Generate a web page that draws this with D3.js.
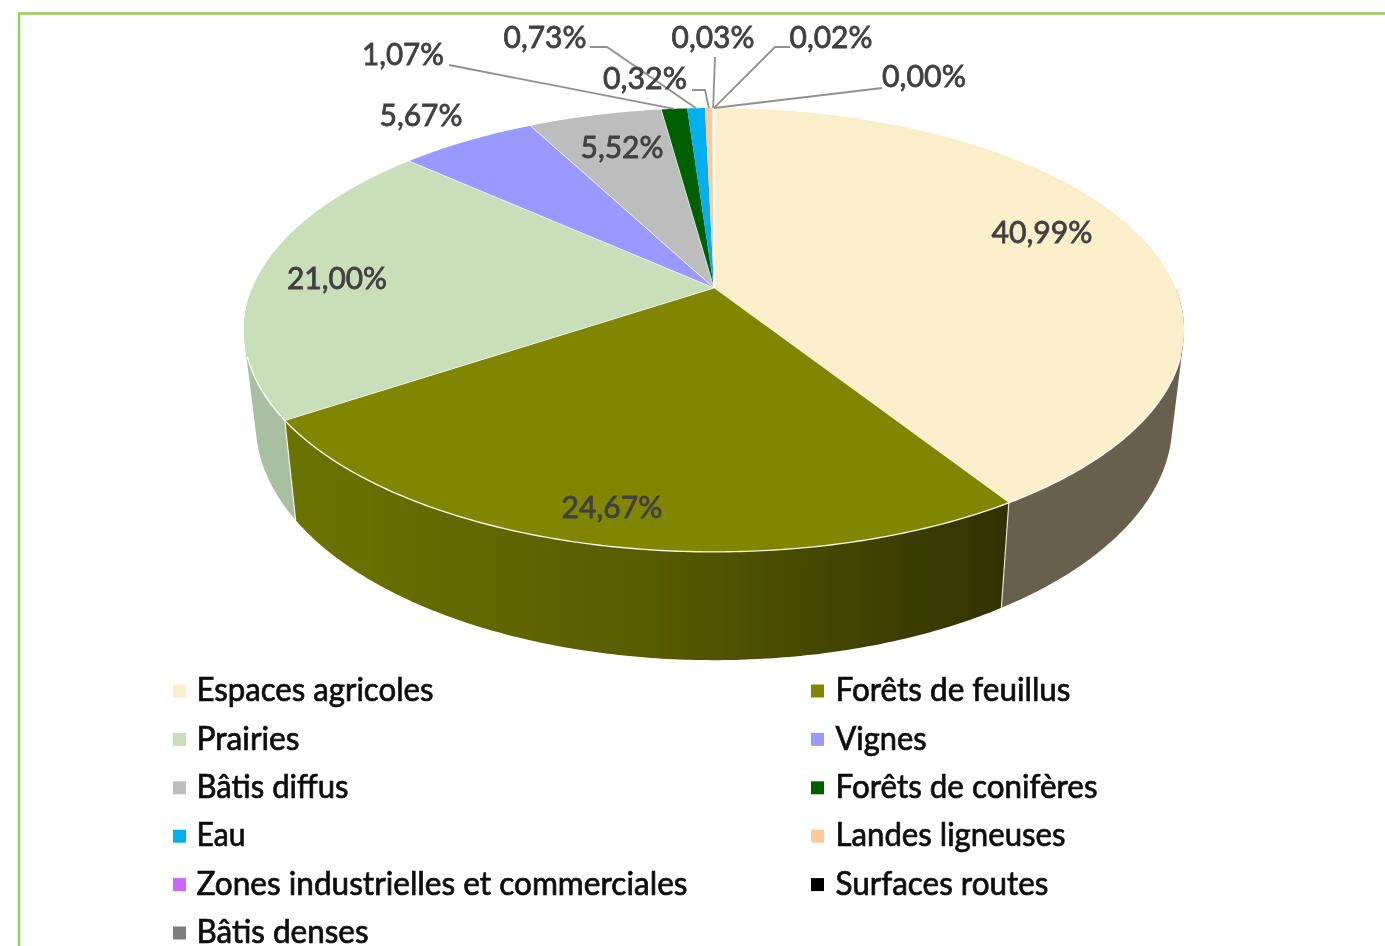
<!DOCTYPE html>
<html>
<head>
<meta charset="utf-8">
<script src="https://cdn.jsdelivr.net/npm/d3@7"></script>
<style>
  html, body { margin: 0; padding: 0; background: #fff; overflow: hidden; }
  text { font-family: Lato, "Liberation Sans", sans-serif; }
</style>
</head>
<body>
<div id="chart"></div>
<script>
const categories = ["Espaces agricoles", "Forêts de feuillus", "Prairies", "Vignes", "Bâtis diffus",
    "Forêts de conifères", "Eau", "Landes ligneuses", "Zones industrielles et commerciales",
    "Surfaces routes", "Bâtis denses"];
const values = [40.99, 24.67, 21.00, 5.67, 5.52, 1.07, 0.73, 0.32, 0.03, 0.02, 0.00];
const valueLabels = ["40,99%", "24,67%", "21,00%", "5,67%", "5,52%", "1,07%", "0,73%", "0,32%", "0,03%", "0,02%", "0,00%"];
const colors = ["#FBEFCB", "#808600", "#C9DFBA", "#9999FF", "#BDBDBD", "#006100", "#00B0F0", "#FFC896", "#CC66FF", "#000000", "#7F7F7F"];
const sideColors = ["#675F4E", "#6B7300", "#A9BFA2", "#6B6BB0", "#858585", "#004000", "#007AA8", "#B08A68", "#8E47B0", "#000000", "#585858"];

// label anchor [x, y], then the elbow of the leader if there is one
const labelPos = [[1042, 232], [612, 507], [337, 278], [421, 115], [622, 147], [403, 54], [545, 37], [645, 78], [713, 37], [831, 37], [924, 76]];
const leaders = [null, null, null, null, null,
    [[449, 65]],
    [[590, 47], [607, 47]],
    [[692, 90], [705, 90]],
    [[715, 57]],
    [[790, 47], [775, 47]],
    [[882, 88]]];

// text widths measured on the picture, the original font is not installed
const labelWidths = [101, 101, 100, 83, 83, 82, 83, 84, 83, 83, 84];
const legendWidths = [237, 235, 103, 91, 152, 262, 49, 230, 491, 213, 172];

const W = 1385, H = 946;
const cx = 714;

// perspective of the discs: k is the foreshortening, each disc has its own apex
const k = 0.189;
const topFace = { x: 461.6, y: 214, cy: 288 };
const botFace = { x: 450, y: 228, cy: 379 };

function project(face, a) {
    const u = Math.sin(a), v = Math.cos(a), w = 1 + k * v;
    return [cx + face.x * u / w, face.cy - face.y * v / w];
}

const svg = d3.select("#chart").append("svg")
    .attr("width", W)
    .attr("height", H)
    .style("display", "block");

const defs = svg.append("defs");
defs.append("filter").attr("id", "soft")
    .append("feGaussianBlur").attr("stdDeviation", 0.5);
defs.append("filter").attr("id", "softer")
    .append("feGaussianBlur").attr("stdDeviation", 0.7);

const arcs = d3.pie().value(d => d).sort(null)(values);
const line = d3.line();

function samples(d) {
    const n = Math.max(1, Math.ceil((d.endAngle - d.startAngle) / 0.01));
    return d3.range(n + 1).map(i => d.startAngle + (d.endAngle - d.startAngle) * i / n);
}

// quads of the wall, all wound the same way so they don't cancel near the silhouette
function wall(s) {
    return d3.pairs(s).map(([a, b]) => {
        const quad = [project(topFace, a), project(topFace, b), project(botFace, b), project(botFace, a)];
        if (d3.polygonArea(quad) < 0) quad.reverse();
        return line(quad) + "Z";
    }).join("");
}

// FRAME
svg.append("path")
    .attr("d", line([[19, H], [19, 13.5], [W, 13.5]]))
    .attr("fill", "none")
    .attr("stroke", "#92D050")
    .attr("stroke-width", 2.4);

const pie = svg.append("g").attr("filter", "url(#soft)");

// forest side darkens from left to right
const forest = arcs[1];
const grad = defs.append("linearGradient").attr("id", "forestSide")
    .attr("gradientUnits", "userSpaceOnUse")
    .attr("x1", project(botFace, forest.endAngle)[0]).attr("y1", 0)
    .attr("x2", project(botFace, forest.startAngle)[0]).attr("y2", 0);
grad.append("stop").attr("offset", "0%").attr("stop-color", "#6B7300");
grad.append("stop").attr("offset", "50%").attr("stop-color", "#575C00");
grad.append("stop").attr("offset", "100%").attr("stop-color", "#303300");

// SIDES, front half only
pie.selectAll(".side").data(arcs).enter().append("path")
    .attr("class", "side")
    .attr("fill", (d, i) => i === 1 ? "url(#forestSide)" : sideColors[i])
    .attr("d", d => wall(samples(d).filter(a => Math.cos(a) < 0)));

// seams between visible sides
pie.selectAll(".seam").data([arcs[0].endAngle, arcs[1].endAngle]).enter().append("path")
    .attr("class", "seam")
    .attr("d", a => line([project(topFace, a), project(botFace, a)]))
    .attr("stroke", "#fff").attr("stroke-opacity", 0.8).attr("stroke-width", 1.2);

// TOP FACES, the slivers under 0.1% only show as a pale line
pie.selectAll(".slice").data(arcs).enter().append("path")
    .attr("class", "slice")
    .attr("fill", (d, i) => colors[i])
    .attr("stroke", d => d.value < 0.1 ? "#fff" : "none")
    .attr("d", d => line([[cx, topFace.cy], ...samples(d).map(a => project(topFace, a))]) + "Z");

// faint radial lines on the larger slices
pie.selectAll(".spoke").data(arcs.slice(2, 5)).enter().append("path")
    .attr("class", "spoke")
    .attr("stroke", "#fff")
    .attr("stroke-opacity", 0.7)
    .attr("d", d => line([[cx, topFace.cy], project(topFace, d.endAngle)]));
pie.append("path")
    .attr("class", "spoke")
    .attr("stroke", "#fff")
    .attr("stroke-opacity", 0.7)
    .attr("d", line([[cx, topFace.cy], project(topFace, arcs[1].endAngle)]));

// white rim on the front edge
pie.selectAll(".rim").data(arcs.slice(0, 3)).enter().append("path")
    .attr("class", "rim")
    .attr("fill", "none")
    .attr("stroke", "#fff")
    .attr("stroke-opacity", 0.9)
    .attr("stroke-width", 1.4)
    .attr("d", d => line(samples(d).filter(a => Math.cos(a) < -0.3).map(a => project(topFace, a))));

const texts = svg.append("g").attr("filter", "url(#softer)");

// LEADERS
texts.selectAll(".leader").data(arcs.filter((d, i) => leaders[i])).enter().append("path")
    .attr("class", "leader")
    .attr("fill", "none")
    .attr("stroke", "#909090")
    .attr("stroke-width", 1.8)
    .attr("d", d => line([...leaders[d.index], project(topFace, (d.startAngle + d.endAngle) / 2)]));

// DATA LABELS
texts.selectAll(".value").data(valueLabels).enter().append("text")
    .attr("class", "value")
    .attr("x", (d, i) => labelPos[i][0])
    .attr("y", (d, i) => labelPos[i][1])
    .attr("dy", "0.36em")
    .attr("text-anchor", "middle")
    .attr("font-size", 31)
    .attr("fill", "#404040")
    .attr("stroke", "#404040")
    .attr("stroke-width", 0.8)
    .attr("textLength", (d, i) => labelWidths[i])
    .attr("lengthAdjust", "spacingAndGlyphs")
    .text(d => d);

// LEGEND
const legendX = d3.scaleOrdinal().domain([0, 1]).range([173, 811]);
const legendY = d3.scaleLinear().domain([0, 5]).range([691, 933]);
const legend = texts.selectAll(".legend").data(categories).enter().append("g")
    .attr("class", "legend")
    .attr("transform", (d, i) => "translate(" + legendX(i % 2) + "," + legendY(Math.floor(i / 2)) + ")");
legend.append("rect")
    .attr("x", 0).attr("y", -6.5)
    .attr("width", 13).attr("height", 13)
    .attr("fill", (d, i) => colors[i]);
legend.append("text")
    .attr("x", (d, i) => i % 2 ? 24.5 : 23.5)
    .attr("dy", "0.32em")
    .attr("font-size", 32)
    .attr("fill", "#0A0A0A")
    .attr("stroke", "#0A0A0A")
    .attr("stroke-width", 0.7)
    .attr("textLength", (d, i) => legendWidths[i])
    .attr("lengthAdjust", "spacingAndGlyphs")
    .text(d => d);
</script>
</body>
</html>
